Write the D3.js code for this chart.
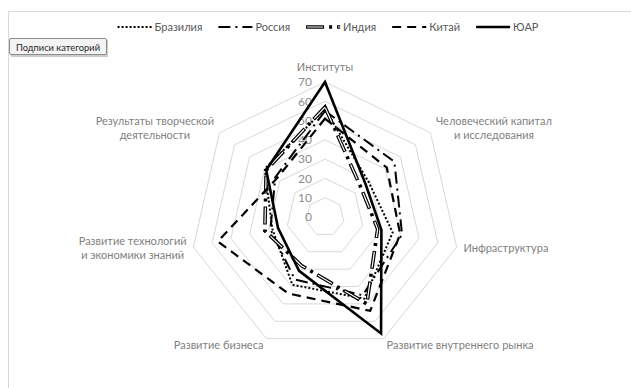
<!DOCTYPE html>
<html><head><meta charset="utf-8">
<script src="https://cdn.jsdelivr.net/npm/d3@7"></script>
<style>
html,body{margin:0;padding:0;background:#fff;}
svg{display:block;font-family:Lato,"Noto Sans",sans-serif;}
</style></head>
<body>
<svg id="chart" width="631" height="388"></svg>
<script>
// ---- data ----
const categories = [
  "Институты",
  "Человеческий капитал\nи исследования",
  "Инфраструктура",
  "Развитие внутреннего рынка",
  "Развитие бизнеса",
  "Развитие технологий\nи экономики знаний",
  "Результаты творческой\nдеятельности"
];
const seriesNames = ["Бразилия", "Россия", "Индия", "Китай", "ЮАР"];
const brazil = [56, 29, 36, 47, 39, 28, 40];
const russia = [55, 46, 41, 45, 36, 29, 33];
const india  = [57, 24, 28, 50, 28, 32, 39];
const china  = [51, 41, 40, 54, 44, 57, 32];
const sa     = [70, 27, 30, 67, 31, 25, 39];
const tickValues = [0, 10, 20, 30, 40, 50, 60, 70];
const buttonLabel = "Подписи категорий";

const seriesData = [brazil, russia, india, china, sa];

// ---- styles ----
const styles = [
  {layers:[{stroke:"#000", width:2, dash:"2,2", cap:"butt"}]},
  {layers:[{stroke:"#000", width:2, dash:"12,5,2,5", cap:"butt"}]},
  {layers:[{stroke:"#000", width:3.6, dash:"18,5,3,5", cap:"butt"},
           {stroke:"#fff", width:1.2, dash:"16,15", offset:-1, cap:"butt"}]},
  {layers:[{stroke:"#000", width:2.2, dash:"9,6", cap:"butt"}]},
  {layers:[{stroke:"#000", width:2.6, dash:null, cap:"butt"}]}
];

const svg = d3.select("#chart");
const cx = 325, cy = 217, R = 135;
const n = categories.length;

// chart area border
svg.append("rect").attr("x",8.5).attr("y",11.5).attr("width",700).attr("height",500)
  .attr("fill","none").attr("stroke","#d9d9d9").attr("stroke-width",1);

const r = d3.scaleLinear().domain([0, d3.max(tickValues)]).range([0, R]);
const ang = d3.scaleLinear().domain([0, n]).range([0, 2*Math.PI]);

const g = svg.append("g").attr("transform", `translate(${cx},${cy})`);

const radial = d3.lineRadial()
  .angle((d,i)=>ang(i))
  .radius(d=>r(d))
  .curve(d3.curveLinearClosed);

// grid rings
g.append("g").selectAll("path")
  .data(tickValues.filter(t=>t>0))
  .join("path")
  .attr("d", t => radial(d3.range(n).map(()=>t)))
  .attr("fill","none").attr("stroke","#d9d9d9").attr("stroke-width",1);

// tick labels
g.append("g").selectAll("text")
  .data(tickValues)
  .join("text")
  .attr("x", -13)
  .attr("y", t => -r(t))
  .attr("dy","0.35em")
  .attr("text-anchor","end")
  .attr("fill","#8c8c8c")
  .attr("font-size", 12)
  .text(t=>t);

// category labels
const lab = g.append("g");
categories.forEach((c,i)=>{
  const a = ang(i);
  const dx = Math.sin(a), dy = -Math.cos(a);
  const off = 7;
  let x = (R+off)*dx, y = (R+off)*dy;
  let side = 0;
  if (dx > 0.1) side = 1; else if (dx < -0.1) side = -1;
  if (side === 0) y -= 8;
  const lines = c.split("\n");
  const lh = 14;
  const t = lab.append("text")
    .attr("text-anchor", "middle")
    .attr("fill","#7f7f7f")
    .attr("font-size", 11);
  const spans = lines.map((ln,j)=> t.append("tspan")
      .attr("y", y + (j - (lines.length-1)/2)*lh)
      .attr("dy","0.35em")
      .text(ln));
  const w = d3.max(spans, s => s.node().getComputedTextLength());
  const xc = side === 1 ? x + w/2 : side === -1 ? x - w/2 : x;
  spans.forEach(s => s.attr("x", xc));
});

// series
function drawStyled(sel, d, st){
  st.layers.forEach(L=>{
    sel.append("path").attr("d", d)
      .attr("fill","none").attr("stroke",L.stroke)
      .attr("stroke-width",L.width)
      .attr("stroke-dasharray",L.dash)
      .attr("stroke-dashoffset",L.offset||0)
      .attr("stroke-linecap",L.cap)
      .attr("stroke-linejoin","miter");
  });
}
seriesData.forEach((vals,si)=>{
  drawStyled(g.append("g"), radial(vals), styles[si]);
});

// legend
const leg = svg.append("g");
const symLen = 34, symGap = 3, itemGap = 16, legY = 27;
let lx = 0;
seriesNames.forEach((nm,i)=>{
  const it = leg.append("g").attr("transform",`translate(${lx},0)`);
  const line = d3.line();
  drawStyled(it, line([[0,legY],[symLen,legY]]), styles[i]);
  const tx = it.append("text").attr("x", symLen+symGap).attr("y",legY).attr("dy","0.35em")
    .attr("fill","#595959").attr("font-size",11).text(nm);
  const w = tx.node().getComputedTextLength();
  lx += symLen + symGap + w + itemGap;
});
const totalW = lx - itemGap;
leg.attr("transform",`translate(${(117+539)/2 - totalW/2},0)`);

// field button
const bt = svg.append("g");
bt.append("rect").attr("x",11).attr("y",40).attr("width",97).attr("height",17)
  .attr("fill","#9a9a9a").attr("opacity",0.5);
bt.append("rect").attr("x",9.5).attr("y",38.5).attr("width",97).attr("height",16)
  .attr("fill","#f4f4f4").attr("stroke","#8c8c8c").attr("stroke-width",1).attr("rx",1.5);
bt.append("text").attr("x",58).attr("y",47).attr("dy","0.35em")
  .attr("text-anchor","middle").attr("font-size",10).attr("fill","#262626")
  .attr("textLength",84).attr("lengthAdjust","spacingAndGlyphs")
  .text(buttonLabel);
</script>
</body></html>
